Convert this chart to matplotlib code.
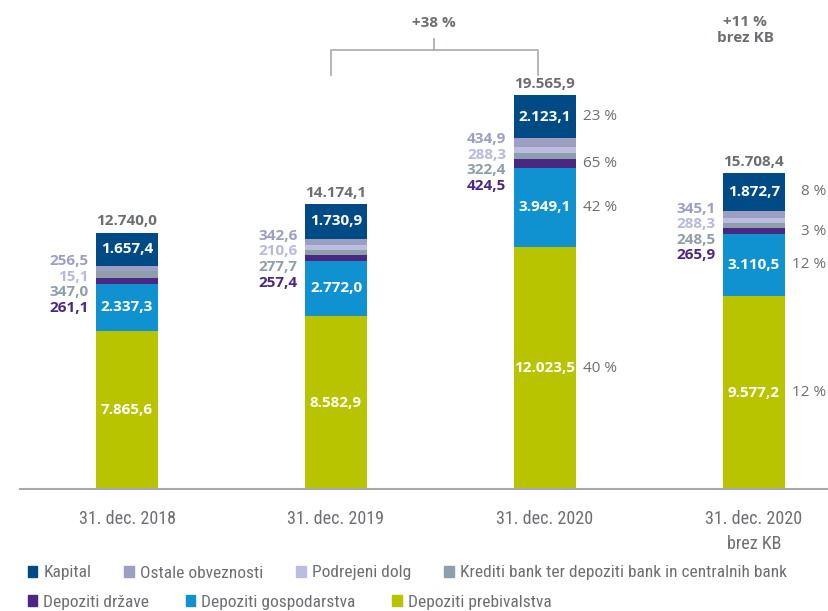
import matplotlib.pyplot as plt
import numpy as np
from matplotlib.patches import Patch

# data (mio EUR)
categories = ["31. dec. 2018", "31. dec. 2019", "31. dec. 2020", "31. dec. 2020\nbrez KB"]
prebivalstva = [7865.6, 8582.9, 12023.5, 9577.2]
gospodarstva = [2337.3, 2772.0, 3949.1, 3110.5]
drzave = [261.1, 257.4, 424.5, 265.9]
krediti = [347.0, 277.7, 322.4, 248.5]
podrejeni = [15.1, 210.6, 288.3, 288.3]
ostale = [256.5, 342.6, 434.9, 345.1]
kapital = [1657.4, 1730.9, 2123.1, 1872.7]
totals = ["12.740,0", "14.174,1", "19.565,9", "15.708,4"]

# percentage labels (only last two bars): kapital, drzave, gospodarstva, prebivalstva
pct_2020 = ["23 %", "65 %", "42 %", "40 %"]
pct_kb = ["8 %", "3 %", "12 %", "12 %"]

series = [
    ("Depoziti prebivalstva", prebivalstva, "#b9c400"),
    ("Depoziti gospodarstva", gospodarstva, "#0f92cf"),
    ("Depoziti države", drzave, "#4a2783"),
    ("Krediti bank ter depoziti bank in centralnih bank", krediti, "#8e9fab"),
    ("Podrejeni dolg", podrejeni, "#bcbce0"),
    ("Ostale obveznosti", ostale, "#9c9fc2"),
    ("Kapital", kapital, "#004a86"),
]

GREY = "#6d6e71"
NUM = ["Open Sans", "DejaVu Sans"]
COND = ["Roboto Condensed", "DejaVu Sans Condensed", "Liberation Sans Narrow", "Roboto", "DejaVu Sans"]

def fmt(v):
    s = f"{v:,.1f}"
    return s.replace(",", "X").replace(".", ",").replace("X", ".")

fig = plt.figure(figsize=(8.29, 6.11), dpi=100)
ax = fig.add_axes([20 / 829, 122 / 611, 809 / 829, 489 / 611])

x = np.arange(len(categories))
w = 0.297
bottom = np.zeros(len(categories))
bottoms = {}
for name, vals, col in series:
    vals = np.array(vals)
    ax.bar(x, vals, w, bottom=bottom, color=col, linewidth=0)
    bottoms[name] = bottom.copy()
    bottom = bottom + vals
tops = bottom

ax.set_xlim(-0.512, 3.359)
ax.set_ylim(0, 24300)

# values inside bars
for name, vals in [("Depoziti prebivalstva", prebivalstva), ("Depoziti gospodarstva", gospodarstva), ("Kapital", kapital)]:
    for i, v in enumerate(vals):
        ax.text(x[i], bottoms[name][i] + v / 2, fmt(v), ha="center", va="center",
                color="white", fontsize=11, fontweight="bold", family=NUM)

# totals
for i, t in enumerate(totals):
    ax.annotate(t, (x[i], tops[i]), xytext=(0, 3), textcoords="offset points",
                ha="center", va="bottom", color=GREY, fontsize=11, fontweight="bold", family=NUM)

# small segments labelled on the left
small = [(ostale, "#9c9fc2"), (podrejeni, "#b9b9dc"), (krediti, "#8e9fab"), (drzave, "#4a2783")]
for i in range(len(categories)):
    lo = bottoms["Depoziti države"][i]
    hi = bottoms["Kapital"][i]
    mid = (lo + hi) / 2
    for k, (vals, col) in enumerate(small):
        dy = (1.5 - k) * 11.2 - 7
        ax.annotate(fmt(vals[i]), (x[i] - w / 2, mid), xytext=(-5.5, dy), textcoords="offset points",
                    ha="right", va="center", color=col, fontsize=11, fontweight="bold", family=NUM)

# percentages
for i, pcts in [(2, pct_2020), (3, pct_kb)]:
    segs = ["Kapital", "Depoziti države", "Depoziti gospodarstva", "Depoziti prebivalstva"]
    vals = [kapital, drzave, gospodarstva, prebivalstva]
    for p, s, v in zip(pcts, segs, vals):
        ax.annotate(p, (x[i] + w / 2, bottoms[s][i] + v[i] / 2), xytext=(29.5, 0),
                    textcoords="offset points", ha="right", va="center",
                    color=GREY, fontsize=11, family=NUM)

# bracket +38 %
bx0, bx1 = x[1] - 0.025, x[2] - 0.035
ax.plot([bx0, bx0, bx1, bx1], [20580, 21820, 21820, 20580], color="#a7a9ac", lw=1.2, clip_on=False)
bm = (bx0 + bx1) / 2
ax.plot([bm, bm], [21820, 22370], color="#a7a9ac", lw=1.2, clip_on=False)
ax.text(bm, 23160, "+38 %", ha="center", va="center", color=GREY, fontsize=11,
        fontweight="bold", family=NUM)
ax.text(x[3] - 0.043, 22800, "+11 %\nbrez KB", ha="center", va="center", color=GREY,
        fontsize=11, fontweight="bold", family=NUM, linespacing=1.2)

ax.set_xticks(x)
ax.set_xticklabels(categories, color=GREY, fontsize=13, family=COND, stretch="condensed",
                   linespacing=1.5)
ax.tick_params(axis="x", length=0, pad=15)
ax.set_yticks([])
for s in ["top", "left", "right"]:
    ax.spines[s].set_visible(False)
ax.spines["bottom"].set_color("#a7a9ac")
ax.spines["bottom"].set_linewidth(1.5)

# legend in two rows
col = {n: c for n, _, c in series}
row1 = ["Kapital", "Ostale obveznosti", "Podrejeni dolg", "Krediti bank ter depoziti bank in centralnih bank"]
row2 = ["Depoziti države", "Depoziti gospodarstva", "Depoziti prebivalstva"]
for row, yy, cs in [(row1, 573, 1.9), (row2, 602, 2.1)]:
    handles = [Patch(color=col[n], label=n) for n in row]
    fig.legend(handles=handles, loc="center left", bbox_to_anchor=(12 / 829, 1 - yy / 611),
               ncol=len(row), frameon=False, handlelength=0.55, handleheight=0.55,
               handletextpad=0.35, columnspacing=cs,
               prop={"family": COND, "size": 12.5, "stretch": "condensed"}, labelcolor=GREY)

fig.savefig("out.png", dpi=100)
